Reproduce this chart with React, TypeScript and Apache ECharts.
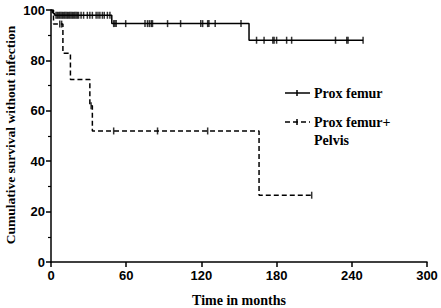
import React, { useEffect, useRef } from "react";
import * as echarts from "echarts";

const xTickInterval = 60;
const yTickInterval = 20;

// Kaplan-Meier step points [months, survival %]
const femurSteps: [number, number][] = [
  [0, 100], [1, 99], [2, 98.5], [3, 97.9], [48.5, 94.6], [158, 88], [249, 88],
];
const pelvisSteps: [number, number][] = [
  [0, 100], [2, 94.4], [9.5, 82.8], [15.5, 72.4], [31, 62], [33, 52], [166, 26.5], [208, 26.5],
];

// Censored observations
const femurCensorA = [4, 5, 6, 7, 8, 9, 10, 11, 12, 13, 14, 15, 16, 17, 18, 19, 20, 21, 22, 24, 26, 29, 31, 33, 36, 37.5, 39, 41, 42.5, 45, 47];
const femurCensorB = [50, 51, 52, 59.6, 75, 77, 78.5, 80, 81, 93, 103.4, 119.5, 121, 125, 126, 131, 151.6];
const femurCensorC = [164, 170, 177, 178, 180, 188, 192, 227, 236, 237, 249];
const femurCensor: [number, number][] = [
  ...femurCensorA.map((t) => [t, 97.9] as [number, number]),
  ...femurCensorB.map((t) => [t, 94.6] as [number, number]),
  ...femurCensorC.map((t) => [t, 88] as [number, number]),
];
const pelvisCensor: [number, number][] = [
  [7, 94.4], [8.5, 94.4], [32, 62], [50, 52], [85, 52], [125, 52], [208, 26.5],
];

const legendNames = ["Prox femur", "Prox femur+", "Pelvis"];
const xTitle = "Time in months";
const yTitle = "Cumulative survival without infection";

export default function App() {
  const ref = useRef<HTMLDivElement>(null);
  useEffect(() => {
    document.body.style.margin = "0";
    const chart = echarts.init(ref.current!, undefined, { renderer: "svg" });
    const labelFont = { fontFamily: "Liberation Sans", fontWeight: "bold" as const, fontSize: 13, color: "#000" };
    const titleFont = { fontFamily: "Liberation Serif", fontWeight: "bold" as const, fontSize: 14, color: "#000" };
    chart.setOption({
      animation: false,
      backgroundColor: "#fff",
      grid: { left: 51, right: 14, top: 10, bottom: 46, outerBoundsMode: "none", containLabel: false },
      xAxis: {
        type: "value",
        min: 0,
        max: 300,
        interval: xTickInterval,
        name: xTitle,
        nameLocation: "middle",
        nameGap: 31,
        nameTextStyle: titleFont,
        axisLine: { show: true, onZero: false, lineStyle: { color: "#000", width: 1.5 } },
        axisTick: { show: true, length: 5, lineStyle: { color: "#000", width: 1.5 } },
        axisLabel: { ...labelFont, margin: 7 },
        splitLine: { show: false },
      },
      yAxis: {
        type: "value",
        min: 0,
        max: 100,
        interval: yTickInterval,
        axisLine: { show: true, onZero: false, lineStyle: { color: "#000", width: 1.5 } },
        axisTick: { show: true, length: 5, lineStyle: { color: "#000", width: 1.5 } },
        minorTick: { show: true, splitNumber: 2, length: 3, lineStyle: { color: "#000", width: 1.2 } },
        axisLabel: { ...labelFont, margin: 6 },
        splitLine: { show: false },
      },
      series: [
        {
          type: "line",
          data: femurSteps,
          step: "end",
          symbol: "none",
          lineStyle: { color: "#000", width: 1.5 },
        },
        {
          type: "line",
          data: pelvisSteps,
          step: "end",
          symbol: "none",
          lineStyle: { color: "#000", width: 1.5, type: [5, 3] },
        },
        {
          type: "scatter",
          data: femurCensor,
          symbol: "rect",
          symbolSize: [1.5, 7],
          itemStyle: { color: "#000" },
        },
        {
          type: "scatter",
          data: pelvisCensor,
          symbol: "rect",
          symbolSize: [1.5, 7],
          itemStyle: { color: "#000" },
        },
      ],
      graphic: [
        {
          type: "text",
          x: 10,
          y: 135,
          rotation: Math.PI / 2,
          style: { text: yTitle, fill: "#000", align: "center", verticalAlign: "middle", font: "bold 13.5px 'Liberation Serif'" },
        },
        { type: "line", shape: { x1: 285, y1: 93, x2: 310, y2: 93 }, style: { stroke: "#000", lineWidth: 1.5 } },
        { type: "line", shape: { x1: 297, y1: 90, x2: 297, y2: 96 }, style: { stroke: "#000", lineWidth: 1.5 } },
        { type: "text", x: 314, y: 93, style: { text: legendNames[0], fill: "#000", verticalAlign: "middle", font: "bold 14px 'Liberation Serif'" } },
        { type: "line", shape: { x1: 285, y1: 122, x2: 310, y2: 122 }, style: { stroke: "#000", lineWidth: 1.5, lineDash: [5, 3] } },
        { type: "line", shape: { x1: 297, y1: 119, x2: 297, y2: 125 }, style: { stroke: "#000", lineWidth: 1.5 } },
        { type: "text", x: 314, y: 122, style: { text: legendNames[1], fill: "#000", verticalAlign: "middle", font: "bold 14px 'Liberation Serif'" } },
        { type: "text", x: 314, y: 140, style: { text: legendNames[2], fill: "#000", verticalAlign: "middle", font: "bold 14px 'Liberation Serif'" } },
      ],
    });
    return () => chart.dispose();
  }, []);
  return <div ref={ref} style={{ width: 441, height: 308 }} />;
}
